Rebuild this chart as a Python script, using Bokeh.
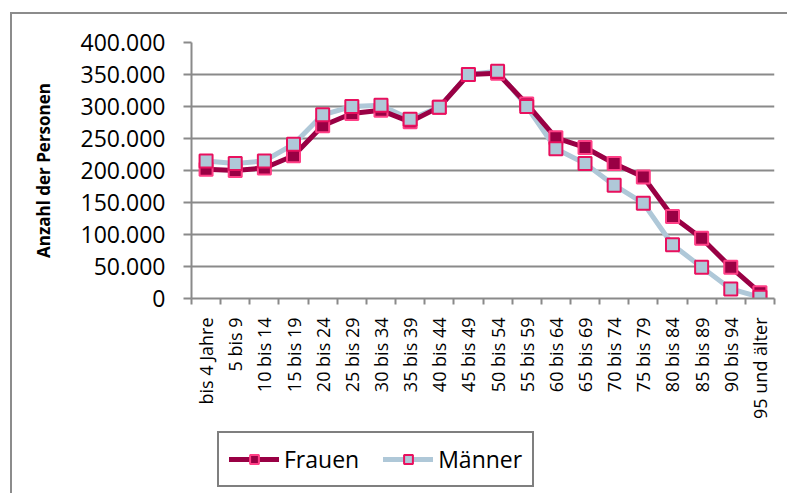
from bokeh.plotting import figure
from bokeh.layouts import column
from bokeh.models import (ColumnDataSource, FixedTicker, CustomJSTickFormatter,
                          Legend, LegendItem, Range1d, InlineStyleSheet)
from bokeh.embed import file_html
from bokeh.resources import INLINE
import math

categories = ["bis 4 Jahre", "5 bis 9", "10 bis 14", "15 bis 19", "20 bis 24",
              "25 bis 29", "30 bis 34", "35 bis 39", "40 bis 44", "45 bis 49",
              "50 bis 54", "55 bis 59", "60 bis 64", "65 bis 69", "70 bis 74",
              "75 bis 79", "80 bis 84", "85 bis 89", "90 bis 94", "95 und älter"]
frauen = [202000, 200000, 204000, 223000, 270000, 289000, 294000, 276000, 299000, 350000,
          352000, 304000, 251000, 236000, 211000, 190000, 128000, 94000, 49000, 9000]
maenner = [215000, 211000, 215000, 241000, 287000, 300000, 302000, 280000, 299000, 350000,
           355000, 300000, 234000, 211000, 177000, 149000, 84000, 49000, 15000, 2000]
y_ticks = list(range(0, 400001, 50000))
series_names = ["Frauen", "Männer"]

FONT = "Open Sans"
GRID = "#8A8A8A"
F_COL, F_EDGE = "#990044", "#FF3F86"
M_COL, M_EDGE = "#AFC8D8", "#E8105E"

n = len(categories)
xs = [i + 0.5 for i in range(n)]
src = ColumnDataSource(dict(x=xs, f=frauen, m=maenner))

p = figure(width=789, height=430, output_backend="svg", toolbar_location=None,
           x_range=Range1d(0, n), y_range=Range1d(0, 400000),
           min_border_left=191, min_border_right=15, min_border_top=42,
           min_border_bottom=132)
p.outline_line_color = None
p.background_fill_color = "white"
p.border_fill_color = "white"
p.stylesheets = [InlineStyleSheet(css="""
:host { position: relative; }
:host::after { content: ''; position: absolute; left: 10px; top: 12px;
  width: 777px; height: 418px; border-left: 2px solid #8C8C8C;
  border-top: 2px solid #8C8C8C; pointer-events: none; }
""")]

# y axis
p.yaxis.ticker = FixedTicker(ticks=y_ticks)
p.yaxis.formatter = CustomJSTickFormatter(
    code="if (tick == 0) {return '0';} return (tick/1000).toFixed(0) + '.000';")
p.yaxis.major_label_text_font = FONT
p.yaxis.major_label_text_font_size = "23px"
p.yaxis.major_label_text_color = "black"
p.yaxis.major_tick_out = 8
p.yaxis.major_tick_in = 0
p.yaxis.minor_tick_out = 0
p.yaxis.minor_tick_in = 0
p.yaxis.major_label_standoff = 18
p.yaxis.axis_line_color = GRID
p.yaxis.axis_line_width = 2
p.yaxis.major_tick_line_color = GRID
p.yaxis.major_tick_line_width = 2
p.yaxis.axis_label = "Anzahl der Personen"
p.yaxis.axis_label_text_font = FONT
p.yaxis.axis_label_text_font_style = "bold"
p.yaxis.axis_label_text_font_size = "17px"
p.yaxis.axis_label_text_color = "black"
p.yaxis.axis_label_standoff = 23

# x axis: labels at category centres, tick marks at category boundaries
p.xaxis.ticker = FixedTicker(ticks=xs, minor_ticks=list(range(n + 1)))
p.xaxis.formatter = CustomJSTickFormatter(args=dict(cats=categories),
                                          code="return cats[Math.round(tick - 0.5)] || '';")
p.xaxis.major_label_orientation = math.pi / 2
p.xaxis.major_label_text_font = FONT
p.xaxis.major_label_text_font_size = "18px"
p.xaxis.major_label_text_color = "black"
p.xaxis.major_label_standoff = 13
p.xaxis.major_tick_out = 0
p.xaxis.major_tick_in = 0
p.xaxis.minor_tick_out = 6
p.xaxis.minor_tick_in = 0
p.xaxis.minor_tick_line_color = GRID
p.xaxis.minor_tick_line_width = 2
p.xaxis.axis_line_color = GRID
p.xaxis.axis_line_width = 2

p.xgrid.visible = False
p.ygrid.ticker = FixedTicker(ticks=y_ticks)
p.ygrid.grid_line_color = GRID
p.ygrid.grid_line_width = 2

# series
p.line("x", "m", source=src, line_color=M_COL, line_width=5,
       line_join="round", line_cap="round")
p.line("x", "f", source=src, line_color=F_COL, line_width=5,
       line_join="round", line_cap="round")
p.scatter("x", "f", source=src, marker="square", size=13,
          fill_color=F_COL, line_color=F_EDGE, line_width=2)
p.scatter("x", "m", source=src, marker="square", size=13,
          fill_color=M_COL, line_color=M_EDGE, line_width=2)

# legend strip below the chart (its frame is aligned with the chart frame)
lg = figure(width=789, height=63, output_backend="svg", toolbar_location=None,
            x_range=Range1d(0, 1), y_range=Range1d(0, 1),
            x_axis_location=None, y_axis_location=None,
            min_border_left=191, min_border_right=15, min_border_top=0,
            min_border_bottom=0)
lg.outline_line_color = None
lg.xgrid.visible = False
lg.ygrid.visible = False
lg.border_fill_color = "white"
lg.background_fill_color = "white"
lg.stylesheets = [InlineStyleSheet(css="""
:host { position: relative; }
:host::after { content: ''; position: absolute; left: 10px; top: 0px;
  width: 2px; height: 63px; background: #8C8C8C; pointer-events: none; }
""")]
# legend key renderers (their data lies outside this strip's visible range)
fl = lg.line("x", "f", source=src, line_color=F_COL, line_width=5, line_cap="round")
fp = lg.scatter("x", "f", source=src, marker="square", size=12,
                fill_color=F_COL, line_color=F_EDGE, line_width=2)
ml = lg.line("x", "m", source=src, line_color=M_COL, line_width=5, line_cap="round")
mp = lg.scatter("x", "m", source=src, marker="square", size=12,
                fill_color=M_COL, line_color=M_EDGE, line_width=2)

legend = Legend(items=[LegendItem(label=series_names[0], renderers=[fl, fp]),
                       LegendItem(label=series_names[1], renderers=[ml, mp])],
                orientation="horizontal", location=(26, 6),
                label_text_font=FONT, label_text_font_size="23px",
                label_text_color="black", glyph_width=50, glyph_height=22,
                label_height=22, label_standoff=5, spacing=24, padding=10,
                margin=0,
                border_line_color="black", border_line_width=2,
                background_fill_color="white", background_fill_alpha=1)
lg.add_layout(legend, "center")

open("out.html", "w").write(file_html(column(p, lg, spacing=0), INLINE))
